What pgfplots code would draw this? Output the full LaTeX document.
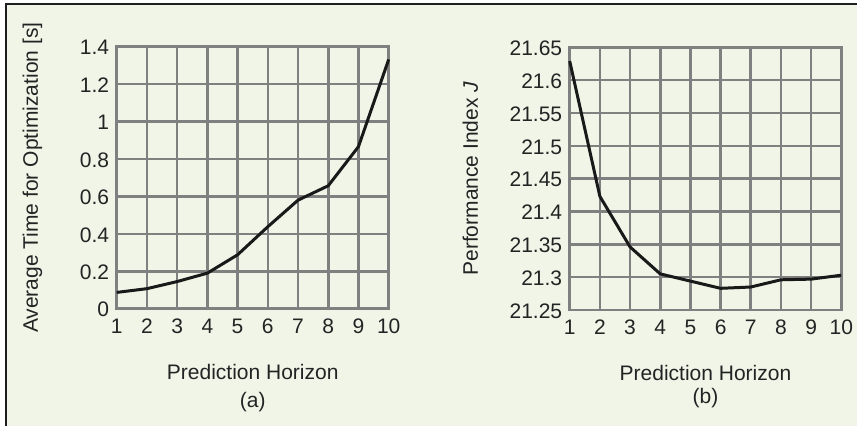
\documentclass[border=0pt]{standalone}
\usepackage{pgfplots}
\pgfplotsset{compat=1.18}
\usepackage{fontspec}
\setmainfont{Liberation Sans}
\definecolor{bgc}{RGB}{240,245,232}
\definecolor{gridc}{RGB}{128,128,128}
\definecolor{txt}{RGB}{35,35,35}
\definecolor{framec}{RGB}{30,30,30}
\newcommand{\bigf}{\fontsize{21}{25}\selectfont}
\pgfplotsset{
  myax/.style={
    scale only axis,
    anchor=south west,
    clip=false,
    xmin=1, xmax=10,
    xtick={1,2,3,4,5,6,7,8,9,10},
    grid=major,
    major grid style={gridc, line width=2.6pt},
    axis line style={gridc, line width=2.6pt},
    major tick length=0pt,
    tick style={draw=none},
    /pgf/number format/assume math mode=true,
    tick label style={text=txt, font=\bigf},
    label style={text=txt, font=\bigf},
    xticklabel style={yshift=-6.5pt},
    yticklabel style={xshift=-4pt, yshift=-1pt},
    xlabel={Prediction Horizon},
    xlabel style={at={(axis description cs:0.5,-0.24)}, anchor=center},
  }
}
\begin{document}
\begin{tikzpicture}[font=\bigf]
\useasboundingbox (0,0) rectangle (857pt,426pt);
\fill[bgc] (6pt,0pt) rectangle (857pt,422pt);
\draw[framec, line width=1.6pt] (6pt,0pt) -- (6pt,422pt) -- (857pt,422pt);

\begin{axis}[myax,
  at={(116.7pt,117.3pt)}, width=272pt, height=262pt,
  ymin=0, ymax=1.4,
  ytick={0,0.2,0.4,0.6,0.8,1,1.2,1.4},
  ylabel={Average Time for Optimization [s]},
  ylabel style={at={(axis description cs:-0.31,0.5)}, anchor=center, rotate=0},
]
\addplot[color=black!90, line width=3pt, line join=round] coordinates {
(1,0.087) (2,0.107) (3,0.145) (4,0.19) (5,0.288) (6,0.438) (7,0.58) (8,0.657) (9,0.866) (10,1.332)
};
\node[text=txt, font=\bigf] at (axis description cs:0.5,-0.355) {(a)};
\end{axis}

\begin{axis}[myax,
  at={(569.7pt,116pt)}, width=271.6pt, height=262.7pt,
  ymin=21.25, ymax=21.65,
  ytick={21.25,21.3,21.35,21.4,21.45,21.5,21.55,21.6,21.65},
  yticklabel style={/pgf/number format/fixed, /pgf/number format/precision=2},
  ylabel={Performance Index \textit{J}},
  ylabel style={at={(axis description cs:-0.366,0.5)}, anchor=center, rotate=0},
]
\addplot[color=black!90, line width=3pt, line join=round] coordinates {
(1,21.629) (2,21.423) (3,21.346) (4,21.305) (5,21.294) (6,21.283) (7,21.285) (8,21.296) (9,21.297) (10,21.303)
};
\node[text=txt, font=\bigf] at (axis description cs:0.5,-0.337) {(b)};
\end{axis}
\end{tikzpicture}
\end{document}
